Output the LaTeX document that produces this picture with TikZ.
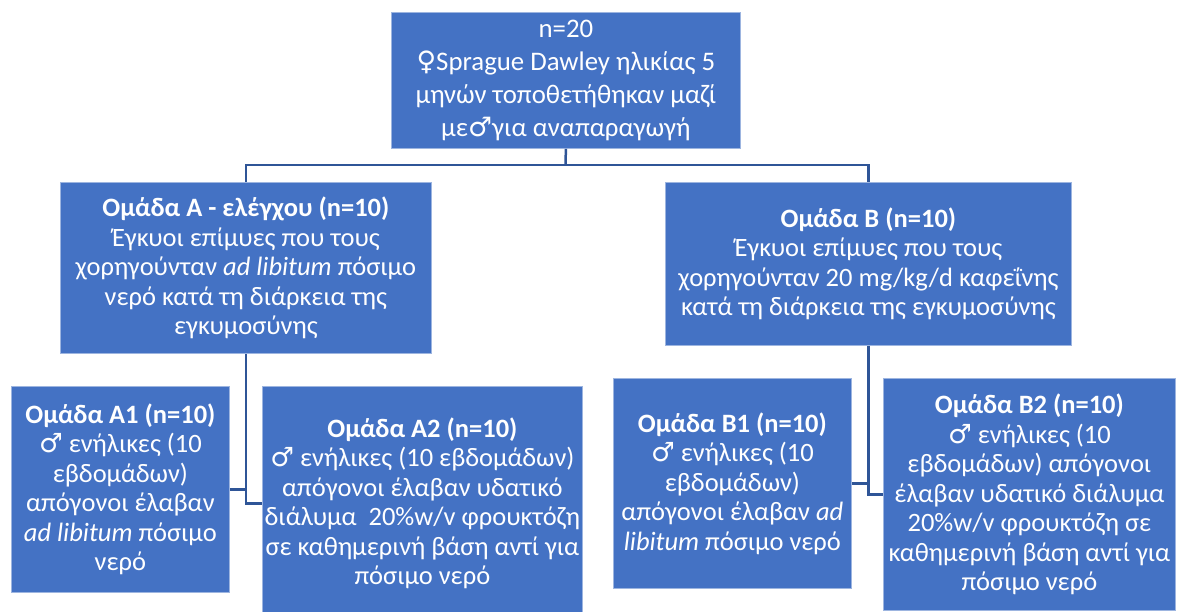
\documentclass[tikz,border=0pt]{standalone}
\usepackage{fontspec}
\setmainfont{Carlito}
\newfontfamily\symfont{DejaVu Sans}
\newcommand\femsym{{\symfont ♀}}
\newcommand\malsym{{\symfont ♂}}
\definecolor{boxblue}{HTML}{4472C4}
\definecolor{edgeblue}{HTML}{9DB5E0}
\definecolor{connblue}{HTML}{2F5597}
\begin{document}
\begin{tikzpicture}[x=1pt,y=-1pt,
  box/.style={draw=edgeblue, line width=0.8pt, fill=boxblue, text=white,
    align=center, inner sep=0pt, anchor=north west,
    font=\fontsize{26.5}{29.5}\selectfont},
  conn/.style={draw=connblue, line width=2.5pt}]
\useasboundingbox (0,0) rectangle (1177,612);
\clip (0,0) rectangle (1177,612);

\node[box, minimum width=349pt, minimum height=136pt, font=\fontsize{26.8}{33}\selectfont] (top) at (391,12)
  {n=20\\ \femsym Sprague Dawley ηλικίας 5\\ μηνών τοποθετήθηκαν μαζί\\ με\malsym για αναπαραγωγή};

\node[box, minimum width=371pt, minimum height=171pt] (A) at (60,182)
  {\textbf{Ομάδα Α - ελέγχου (n=10)}\\ Έγκυοι επίμυες που τους\\ χορηγούνταν \textit{ad libitum} πόσιμο\\ νερό κατά τη διάρκεια της\\ εγκυμοσύνης};

\node[box, minimum width=406pt, minimum height=163pt] (B) at (665,182)
  {\textbf{Ομάδα Β (n=10)}\\ Έγκυοι επίμυες που τους\\ χορηγούνταν 20 mg/kg/d καφεΐνης\\ κατά τη διάρκεια της εγκυμοσύνης};

\node[box, minimum width=218pt, minimum height=206pt] (A1) at (11,386)
  {\textbf{Ομάδα Α1 (n=10)}\\ \malsym\ ενήλικες (10\\ εβδομάδων)\\ απόγονοι έλαβαν\\ \textit{ad libitum} πόσιμο\\ νερό};

\node[box, minimum width=320pt, minimum height=234pt] (A2) at (262,386)
  {\textbf{Ομάδα Α2 (n=10)}\\ \malsym\ ενήλικες (10 εβδομάδων)\\ απόγονοι έλαβαν υδατικό\\ διάλυμα\ \ 20\%w/v φρουκτόζη\\ σε καθημερινή βάση αντί για\\ πόσιμο νερό};

\node[box, minimum width=238pt, minimum height=210pt] (B1) at (613,378)
  {\textbf{Ομάδα Β1 (n=10)}\\ \malsym\ ενήλικες (10\\ εβδομάδων)\\ απόγονοι έλαβαν \textit{ad}\\ \textit{libitum} πόσιμο νερό};

\node[box, minimum width=292pt, minimum height=232pt] (B2) at (883,378)
  {\textbf{Ομάδα Β2 (n=10)}\\ \malsym\ ενήλικες (10\\ εβδομάδων) απόγονοι\\ έλαβαν υδατικό διάλυμα\\ 20\%w/v φρουκτόζη σε\\ καθημερινή βάση αντί για\\ πόσιμο νερό};

\coordinate (bus) at (565.5,165);
\draw[conn] (top.south) -- (bus);
\draw[conn] (A.north) |- (bus) -| (B.north);
\draw[conn] (A.south) |- (A2.west);
\draw[conn] (A1.east) -- (A1.east -| A.south);
\draw[conn] (B.south) |- (B2.west);
\draw[conn] (B1.east) -- (B1.east -| B.south);
\end{tikzpicture}
\end{document}
